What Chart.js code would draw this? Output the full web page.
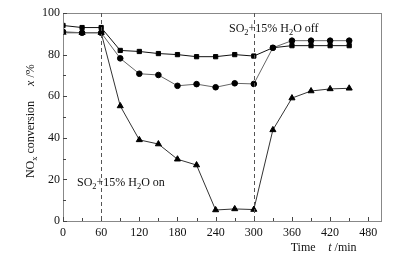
<!DOCTYPE html>
<html>
<head>
    <script src="https://cdn.jsdelivr.net/npm/chart.js"></script>
    <style>
        body { margin: 0; background: #fff; }
        #wrap { width: 405px; height: 259px; position: relative; }
    </style>
</head>
<body>
    <div id="wrap"><canvas id="noxChart"></canvas></div>
    <script>
        const times = [0, 30, 60, 90, 120, 150, 180, 210, 240, 270, 300, 330, 360, 390, 420, 450];
        const squareSeries = [94, 93, 93, 82, 81.5, 80.5, 80, 79, 79, 80, 79.3, 83.3, 84.3, 84.3, 84.3, 84.3];
        const circleSeries = [91, 90.5, 90.5, 78.2, 70.8, 70.2, 65, 65.8, 64.3, 66.2, 65.9, 83.3, 86.7, 86.7, 86.7, 86.7];
        const triangleSeries = [90.5, 90.5, 90.5, 55.3, 39, 37, 29.7, 26.9, 5.3, 5.8, 5.5, 43.8, 59.1, 62.5, 63.5, 63.8];
        const xTicks = [0, 60, 120, 180, 240, 300, 360, 420, 480];
        const yTicks = [0, 20, 40, 60, 80, 100];
        const switchTimes = [60, 300];

        const serif = '"Liberation Serif", "Times New Roman", serif';

        function toPoints(values) {
            return times.map((t, i) => ({ x: t, y: values[i] }));
        }

        // draws a run of text pieces, some as subscripts or italics
        function richText(ctx, parts, x, y, size) {
            let cx = x;
            parts.forEach(p => {
                const fs = p.sub ? size * 0.7 : size;
                ctx.font = (p.it ? 'italic ' : '') + fs + 'px ' + serif;
                ctx.fillText(p.t, cx, p.sub ? y + size * 0.25 : y);
                cx += ctx.measureText(p.t).width;
            });
            return cx - x;
        }
        function richWidth(ctx, parts, size) {
            let w = 0;
            parts.forEach(p => {
                const fs = p.sub ? size * 0.7 : size;
                ctx.font = (p.it ? 'italic ' : '') + fs + 'px ' + serif;
                w += ctx.measureText(p.t).width;
            });
            return w;
        }

        const decor = {
            id: 'decor',
            afterDraw(chart) {
                const ctx = chart.ctx;
                const a = chart.chartArea;
                const xs = chart.scales.x, ys = chart.scales.y;
                ctx.save();

                // frame
                ctx.strokeStyle = '#888';
                ctx.lineWidth = 1;
                ctx.strokeRect(a.left + 0.5, a.top + 0.5, a.right - a.left, a.bottom - a.top);

                // inward ticks
                ctx.strokeStyle = '#444';
                ctx.beginPath();
                for (let v = 0; v <= 480; v += 30) {
                    const px = Math.round(xs.getPixelForValue(v)) + 0.5;
                    const len = v % 60 === 0 ? 4 : 3;
                    ctx.moveTo(px, a.bottom);
                    ctx.lineTo(px, a.bottom - len);
                }
                for (let v = 0; v <= 100; v += 10) {
                    const py = Math.round(ys.getPixelForValue(v)) + 0.5;
                    const len = v % 20 === 0 ? 4 : 3;
                    ctx.moveTo(a.left, py);
                    ctx.lineTo(a.left + len, py);
                }
                ctx.stroke();

                // dashed switch lines
                ctx.strokeStyle = '#555';
                ctx.setLineDash([4, 3]);
                ctx.beginPath();
                switchTimes.forEach(t => {
                    const px = Math.round(xs.getPixelForValue(t)) + 0.5;
                    ctx.moveTo(px, a.top);
                    ctx.lineTo(px, a.bottom);
                });
                ctx.stroke();
                ctx.setLineDash([]);

                // annotations
                ctx.fillStyle = '#111';
                ctx.textBaseline = 'alphabetic';
                ctx.textAlign = 'left';
                richText(ctx, [{ t: 'SO' }, { t: '2', sub: true }, { t: '+15% H' }, { t: '2', sub: true }, { t: 'O on' }],
                    xs.getPixelForValue(22), ys.getPixelForValue(17), 12);
                richText(ctx, [{ t: 'SO' }, { t: '2', sub: true }, { t: '+15% H' }, { t: '2', sub: true }, { t: 'O off' }],
                    xs.getPixelForValue(261), ys.getPixelForValue(91), 12);

                // x title
                richText(ctx, [{ t: 'Time' }], xs.getPixelForValue(358), 251, 12);
                richText(ctx, [{ t: 't', it: true }, { t: ' /min' }], xs.getPixelForValue(417), 251, 12);

                // y title (rotated)
                const yParts = [{ t: 'NO' }, { t: 'x', sub: true }, { t: ' conversion     ' }, { t: 'x', it: true }, { t: ' /%' }];
                const w = richWidth(ctx, yParts, 12);
                ctx.translate(34, ys.getPixelForValue(48));
                ctx.rotate(-Math.PI / 2);
                richText(ctx, yParts, -w / 2, 0, 12);

                ctx.restore();
            }
        };

        const markerBase = {
            pointBackgroundColor: '#000',
            pointBorderColor: '#000',
            borderWidth: 1,
            tension: 0
        };

        new Chart(document.getElementById('noxChart'), {
            type: 'line',
            data: {
                datasets: [
                    { ...markerBase, data: toPoints(squareSeries), borderColor: '#111', pointStyle: 'rect', pointRadius: 3 },
                    { ...markerBase, data: toPoints(circleSeries), borderColor: '#666', pointStyle: 'circle', pointRadius: 2.8 },
                    { ...markerBase, data: toPoints(triangleSeries), borderColor: '#333', pointStyle: 'triangle', pointRadius: 3.5 }
                ]
            },
            options: {
                responsive: true,
                maintainAspectRatio: false,
                animation: false,
                layout: { padding: { top: 13, right: 24, left: 0, bottom: 0 } },
                plugins: { legend: { display: false }, tooltip: { enabled: false } },
                scales: {
                    x: {
                        type: 'linear',
                        min: 0,
                        max: 500,
                        afterBuildTicks: s => { s.ticks = xTicks.map(v => ({ value: v })); },
                        afterFit: s => { s.height = 38; },
                        grid: { display: false, drawTicks: false },
                        border: { display: false },
                        ticks: { color: '#111', padding: 5, maxRotation: 0, font: { family: serif, size: 12 } }
                    },
                    y: {
                        min: 0,
                        max: 100,
                        afterBuildTicks: s => { s.ticks = yTicks.map(v => ({ value: v })); },
                        afterFit: s => { s.width = 63; },
                        grid: { display: false, drawTicks: false },
                        border: { display: false },
                        ticks: { color: '#111', padding: 3, font: { family: serif, size: 12 } }
                    }
                }
            },
            plugins: [decor]
        });
    </script>
</body>
</html>
